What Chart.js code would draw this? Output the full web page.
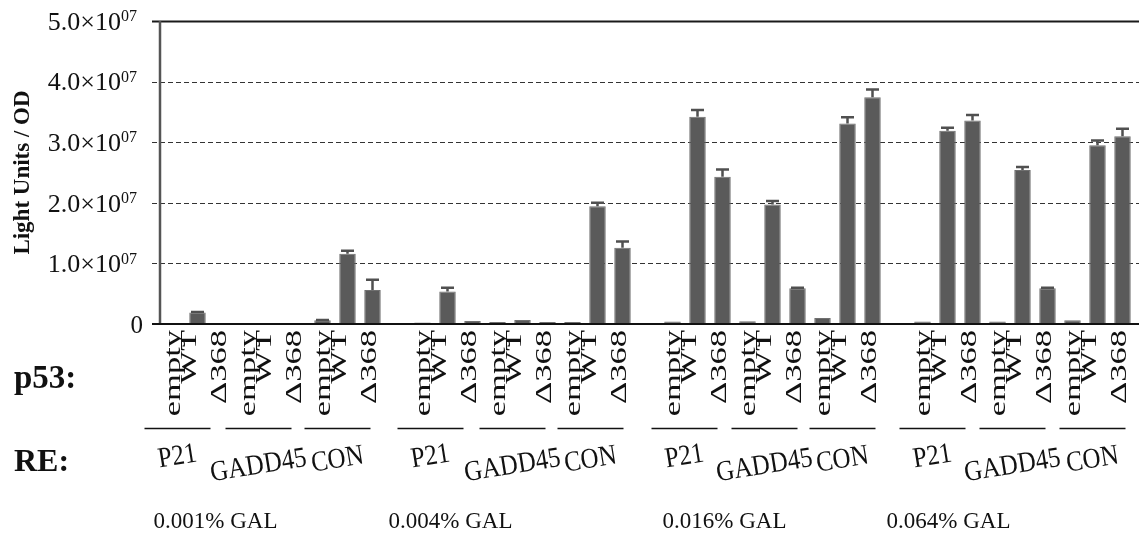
<!DOCTYPE html>
<html>
<head>
<meta charset="utf-8">
<script src="https://cdn.jsdelivr.net/npm/chart.js@4.4.0/dist/chart.umd.min.js"></script>
<style>
  html, body { margin: 0; padding: 0; background: #fff; }
  #wrap { width: 1139px; height: 543px; }
</style>
</head>
<body>
<div id="wrap"><canvas id="c" width="1139" height="543"></canvas></div>
<script>
// ---- data ---------------------------------------------------------------
const galLevels = ['0.001% GAL', '0.004% GAL', '0.016% GAL', '0.064% GAL'];
const responseElements = ['P21', 'GADD45', 'CON'];
const p53Variants = ['empty', 'WT', 'Δ368'];

// Light units / OD, each row: P21 (empty, WT, Δ368), GADD45 (...), CON (...)
const gal001 = [0,      1.9e6,  1.5e5,   0,      0,      5e4,     6e5,   1.16e7, 5.6e6];
const gal004 = [2.5e5,  5.35e6, 5e5,     3.5e5,  6.5e5,  3.5e5,   3.5e5, 1.945e7, 1.26e7];
const gal016 = [4e5,    3.42e7, 2.43e7,  4.5e5,  1.97e7, 5.9e6,   1.0e6, 3.31e7, 3.74e7];
const gal064 = [4e5,    3.19e7, 3.36e7,  4e5,    2.54e7, 5.9e6,   6e5,   2.95e7, 3.10e7];

// upper error bars (same order)
const err001 = [0, 1e5,   0,     0, 0,     0,    5e4, 5e5,   1.7e6];
const err004 = [0, 6.5e5, 0,     0, 0,     0,    0,   5.5e5, 1.0e6];
const err016 = [0, 1.1e6, 1.2e6, 0, 6e5,   1e5,  0,   1.0e6, 1.3e6];
const err064 = [0, 5e5,   9e5,   0, 5e5,   1e5,  0,   8e5,   1.2e6];

const yTicks = [0, 1e7, 2e7, 3e7, 4e7, 5e7];
const yTickLabels = ['0', '1.0×10', '2.0×10', '3.0×10', '4.0×10', '5.0×10'];
const yTickExponents = ['', '07', '07', '07', '07', '07'];

// ---- build category axis (one empty slot between GAL levels) -------------
const groups = [gal001, gal004, gal016, gal064];
const groupErrs = [err001, err004, err016, err064];
const labels = [], values = [], errors = [];
groups.forEach((g, gi) => {
  if (gi > 0) { labels.push(''); values.push(null); errors.push(0); }
  g.forEach((v, i) => {
    labels.push(p53Variants[i % 3]);
    values.push(v);
    errors.push(groupErrs[gi][i]);
  });
});

const SERIF = '"Liberation Serif", "Times New Roman", serif';

// ---- drawing helpers -----------------------------------------------------
const figureLayout = {
  id: 'figureLayout',
  beforeDatasetsDraw(chart) {
    const { ctx, chartArea: a, scales: { y } } = chart;
    const W = chart.width;
    ctx.save();
    yTicks.forEach(v => {
      if (v === 0) return;
      const py = Math.round(y.getPixelForValue(v)) + 0.5;
      ctx.beginPath();
      if (v === y.max) {
        ctx.setLineDash([]);
        ctx.strokeStyle = '#1a1a1a';
        ctx.lineWidth = 2;
      } else {
        ctx.setLineDash([5, 3]);
        ctx.strokeStyle = '#333';
        ctx.lineWidth = 1.2;
      }
      ctx.moveTo(a.left - 8, py);
      ctx.lineTo(W, py);
      ctx.stroke();
    });
    ctx.restore();
  },
  afterDatasetsDraw(chart) {
    const { ctx, chartArea: a, scales: { x, y } } = chart;
    const W = chart.width;
    ctx.save();

    // error bars
    ctx.strokeStyle = '#505050';
    ctx.lineWidth = 2.5;
    values.forEach((v, i) => {
      const e = errors[i];
      if (v == null || !e) return;
      const px = x.getPixelForValue(i);
      const y0 = y.getPixelForValue(v);
      const y1 = y.getPixelForValue(v + e);
      ctx.beginPath();
      ctx.moveTo(px, y0); ctx.lineTo(px, y1);
      ctx.moveTo(px - 6.5, y1); ctx.lineTo(px + 6.5, y1);
      ctx.stroke();
    });

    // axes
    ctx.strokeStyle = '#555';
    ctx.lineWidth = 2.5;
    ctx.beginPath();
    ctx.moveTo(a.left, a.top); ctx.lineTo(a.left, a.bottom);
    ctx.stroke();
    ctx.strokeStyle = '#111';
    ctx.lineWidth = 2;
    ctx.beginPath();
    ctx.moveTo(a.left - 8, a.bottom); ctx.lineTo(W, a.bottom);
    ctx.stroke();

    // y tick labels with superscript exponent
    ctx.fillStyle = '#111';
    ctx.textBaseline = 'middle';
    yTicks.forEach((v, i) => {
      const py = y.getPixelForValue(v) + 2;
      if (!yTickExponents[i]) {
        ctx.font = '25px ' + SERIF;
        ctx.textAlign = 'right';
        ctx.fillText(yTickLabels[i], a.left - 17, py);
        return;
      }
      ctx.font = '16px ' + SERIF;
      ctx.textAlign = 'right';
      ctx.fillText(yTickExponents[i], a.left - 23, py - 6);
      const expW = ctx.measureText(yTickExponents[i]).width;
      ctx.font = '26px ' + SERIF;
      ctx.fillText(yTickLabels[i], a.left - 23 - expW, py);
    });

    // p53 variant labels, rotated, stretched along the reading direction
    const nudge = { 'empty': 1, 'WT': -8, 'Δ368': -3 };
    chart.data.labels.forEach((lab, i) => {
      if (!lab) return;
      const px = x.getPixelForValue(i) + nudge[lab];
      ctx.save();
      ctx.translate(px, a.bottom + 6);
      ctx.rotate(-Math.PI / 2);
      ctx.scale(1.5, 1);
      ctx.font = '23px ' + SERIF;
      ctx.textAlign = 'right';
      ctx.textBaseline = 'middle';
      ctx.fillStyle = '#111';
      ctx.fillText(lab, 0, 0);
      ctx.restore();
    });

    // response-element underlines and names
    const opts = chart.options.plugins.figureLayout;
    ctx.strokeStyle = '#111';
    ctx.lineWidth = 1.5;
    ctx.fillStyle = '#111';
    galLevels.forEach((gal, gi) => {
      responseElements.forEach((re, ri) => {
        const idx = gi * 10 + ri * 3 + 1;
        const cx = x.getPixelForValue(idx) + opts.lineShift[gi * 3 + ri];
        ctx.beginPath();
        ctx.moveTo(cx - 33, 428.5); ctx.lineTo(cx + 33, 428.5);
        ctx.stroke();
        ctx.save();
        ctx.translate(cx, opts.reY[ri]);
        ctx.rotate(-0.16);
        ctx.scale(1, 1.15);
        ctx.font = '25px ' + SERIF;
        ctx.textAlign = 'center';
        ctx.textBaseline = 'middle';
        ctx.fillText(re, 0, 0);
        ctx.restore();
      });
      const gx = x.getPixelForValue(gi * 10 + 1) + opts.galShift[gi];
      ctx.font = '23px ' + SERIF;
      ctx.textAlign = 'center';
      ctx.textBaseline = 'middle';
      ctx.fillText(gal, gx, 522);
    });

    // row captions
    ctx.font = 'bold 33px ' + SERIF;
    ctx.textAlign = 'left';
    ctx.textBaseline = 'alphabetic';
    ctx.fillText('p53:', 14, 388);
    ctx.font = 'bold 32px ' + SERIF;
    ctx.fillText('RE:', 14, 471);
    ctx.restore();
  }
};

new Chart(document.getElementById('c'), {
  type: 'bar',
  data: {
    labels: labels,
    datasets: [{
      data: values,
      backgroundColor: '#5a5a5a',
      borderColor: '#707070',
      borderWidth: 1,
      barPercentage: 0.66,
      categoryPercentage: 1.0
    }]
  },
  options: {
    responsive: false,
    animation: false,
    devicePixelRatio: 1,
    layout: { padding: { top: 21, bottom: 211, left: 0, right: 4 } },
    plugins: {
      legend: { display: false },
      tooltip: { enabled: false },
      figureLayout: {
        lineShift: [-20, -14, -10, -17, -10, -7, -13, -8, -5, -15, -10, -5],
        reY: [457, 466, 460],
        galShift: [18, 3, 27, 1]
      }
    },
    scales: {
      x: {
        type: 'category',
        grid: { display: false },
        border: { display: false },
        ticks: { display: false }
      },
      y: {
        min: 0,
        max: 5e7,
        ticks: { display: false, stepSize: 1e7 },
        grid: { display: false },
        border: { display: false },
        title: {
          display: true,
          text: 'Light Units / OD',
          color: '#111',
          font: { family: SERIF, size: 23, weight: 'bold' },
          padding: { top: 9, bottom: 0 }
        },
        afterFit(scale) { scale.width = 160; }
      }
    }
  },
  plugins: [figureLayout]
});
</script>
</body>
</html>
